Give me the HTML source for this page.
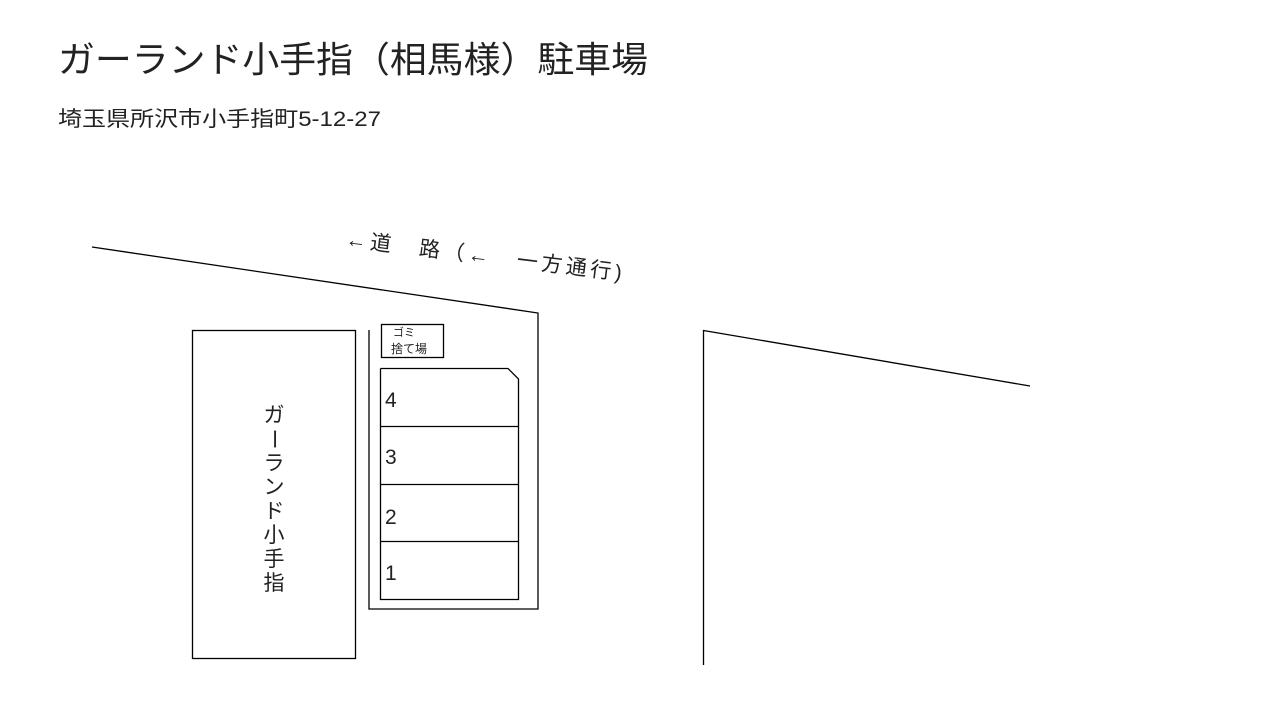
<!DOCTYPE html>
<html><head><meta charset="utf-8"><style>
html,body{margin:0;padding:0;background:#fff;}
body{width:1280px;height:720px;overflow:hidden;position:relative;font-family:"Liberation Sans","Noto Sans CJK JP",sans-serif;color:#222;}
svg{position:absolute;left:0;top:0;}
</style></head><body>
<svg width="1280" height="720" viewBox="0 0 1280 720" font-family="Liberation Sans, Noto Sans CJK JP, sans-serif">
<text x="58" y="72" font-size="36" fill="#222" textLength="590" lengthAdjust="spacingAndGlyphs">ガーランド小手指（相馬様）駐車場</text>
<text x="58" y="126" font-size="21" fill="#222" textLength="323" lengthAdjust="spacingAndGlyphs">埼玉県所沢市小手指町5-12-27</text>
<text x="0" y="0" font-size="21" fill="#222" transform="translate(345,246) rotate(7)" xml:space="preserve" textLength="278" lengthAdjust="spacing">←道　路（←　一方通行)</text>
<g fill="none" stroke="#000" stroke-width="1.3">
<polyline points="92,247 538,313 538,609 369,609 369,330"/>
<rect x="192.5" y="330.5" width="163" height="328"/>
<rect x="381.5" y="324.5" width="62" height="33"/>
<polyline points="380.5,368.5 508,368.5 518.5,379 518.5,599.5 380.5,599.5 380.5,368.5"/>
<line x1="380" y1="426.5" x2="518" y2="426.5"/>
<line x1="380" y1="484.5" x2="518" y2="484.5"/>
<line x1="380" y1="541.5" x2="518" y2="541.5"/>
<polyline points="703.5,665 703.5,330.5 1030,386"/>
</g>
<text x="393" y="336" font-size="11" fill="#222">ゴミ</text>
<text x="391" y="353" font-size="12" fill="#222">捨て場</text>
<g font-size="21" fill="#222">
<text x="385" y="407">4</text>
<text x="385" y="464">3</text>
<text x="385" y="524">2</text>
<text x="385" y="580">1</text>
</g>
<g font-size="21" fill="#222" text-anchor="middle">
<text x="274" y="422">ガ</text>
<text x="274" y="446" transform="rotate(90 274 439)">ー</text>
<text x="274" y="470">ラ</text>
<text x="274" y="494">ン</text>
<text x="274" y="518">ド</text>
<text x="274" y="542">小</text>
<text x="274" y="566">手</text>
<text x="274" y="590">指</text>
</g>
</svg>
</body></html>
